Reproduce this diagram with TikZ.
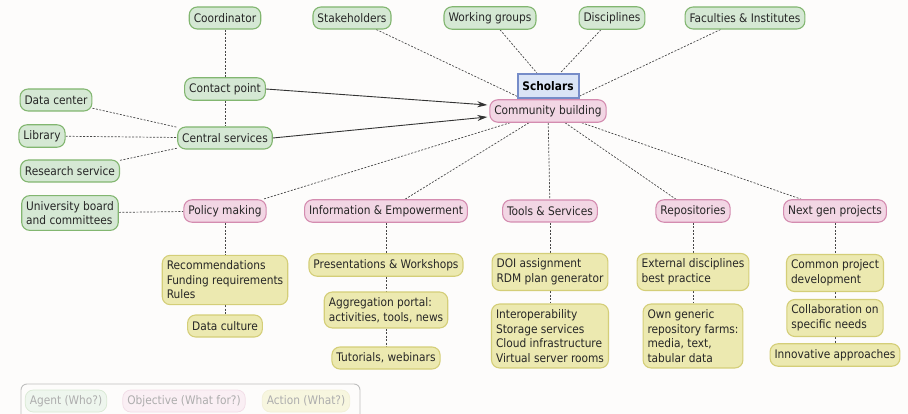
\documentclass[tikz,border=0pt]{standalone}
\usepackage{fontspec}
\setmainfont{DejaVu Sans Condensed}
\usetikzlibrary{arrows.meta,backgrounds}

\definecolor{agentfill}{RGB}{213,232,212}
\definecolor{agentline}{RGB}{130,182,112}
\definecolor{objfill}{RGB}{242,214,228}
\definecolor{objline}{RGB}{212,140,176}
\definecolor{actfill}{RGB}{236,233,176}
\definecolor{actline}{RGB}{212,206,120}
\definecolor{scholfill}{RGB}{218,228,246}
\definecolor{scholline}{RGB}{118,140,200}
\definecolor{linkgray}{RGB}{70,70,70}
\definecolor{paper}{RGB}{253,252,251}

\begin{document}
\begin{tikzpicture}[x=1pt,y=-1pt,font=\fontsize{11.8}{14.6}\selectfont,
    box/.style={draw, rounded corners=8pt, line width=1.1pt, inner xsep=4.5pt, inner ysep=5.5pt, minimum height=22pt, align=left, text=black!85},
    agent/.style={box, draw=agentline, fill=agentfill},
    objective/.style={box, draw=objline, fill=objfill},
    action/.style={box, draw=actline, fill=actfill},
    scholar/.style={draw=scholline, fill=scholfill, line width=2pt, minimum width=61pt, minimum height=24pt, font=\fontsize{11.8}{13}\selectfont\bfseries},
    link/.style={draw=linkgray, line width=0.7pt, dash pattern=on 2pt off 1.5pt},
    arrowlink/.style={draw=black!80, line width=0.9pt, -{Stealth[length=10pt,width=6pt]}},
    legendbox/.style={box, inner ysep=3pt, line width=0.7pt, text=black!32}]
    \useasboundingbox (0,0) rectangle (908,414);

    % agents (top row)
    \node[agent] (coord) at (225,18) {Coordinator};
    \node[agent] (stake) at (352,18) {Stakeholders};
    \node[agent] (wgroups) at (490,18) {Working groups};
    \node[agent] (discip) at (612,18) {Disciplines};
    \node[agent] (facul) at (745,18) {Faculties \& Institutes};

    % centre
    \node[scholar] (scholars) at (548,86) {Scholars};
    \node[objective] (community) at (548,111) {Community building};

    % agents (left)
    \node[agent] (contact) at (225,89) {Contact point};
    \node[agent] (central) at (225,138) {Central services};
    \node[agent] (datacenter) at (56,100) {Data center};
    \node[agent] (library) at (42,136) {Library};
    \node[agent] (research) at (70,171) {Research service};
    \node[agent] (uniboard) at (70,213) {University board\\and committees};

    % objectives
    \node[objective] (policy) at (225,211) {Policy making};
    \node[objective] (info) at (386,211) {Information \& Empowerment};
    \node[objective] (tools) at (550,211) {Tools \& Services};
    \node[objective] (repos) at (693,211) {Repositories};
    \node[objective] (nextgen) at (835,211) {Next gen projects};

    % actions
    \node[action] (recomm) at (225,280) {Recommendations\\Funding requirements\\Rules};
    \node[action] (dataculture) at (225,326) {Data culture};
    \node[action] (presws) at (386,265) {Presentations \& Workshops};
    \node[action] (aggreg) at (386,310) {Aggregation portal:\\activities, tools, news};
    \node[action] (tutor) at (386,358) {Tutorials, webinars};
    \node[action] (doi) at (550,272) {DOI assignment\\RDM plan generator};
    \node[action] (interop) at (550,336) {Interoperability\\Storage services\\Cloud infrastructure\\Virtual server rooms};
    \node[action] (extdisc) at (693,272) {External disciplines\\best practice};
    \node[action] (owngen) at (693,336) {Own generic\\repository farms:\\media, text,\\tabular data};
    \node[action] (common) at (835,273) {Common project\\development};
    \node[action] (collab) at (835,318) {Collaboration on\\specific needs};
    \node[action] (innov) at (835,355) {Innovative approaches};

    % legend
    \draw[black!25, line width=0.9pt, rounded corners=6pt] (21,384) rectangle (360,422);
    \node[legendbox, draw=agentline!30, fill=agentfill!40] (lagent) at (66,401) {Agent (Who?)};
    \node[legendbox, draw=objline!30, fill=objfill!40] (lobj) at (184,401) {Objective (What for?)};
    \node[legendbox, draw=actline!30, fill=actfill!40] (lact) at (306,401) {Action (What?)};

    \begin{pgfonlayer}{background}
        \fill[paper] (0,0) rectangle (908,414);
        \draw[link] (coord) -- (contact);
        \draw[link] (contact) -- (central);
        \draw[link] (datacenter) -- (central);
        \draw[link] (library) -- (central);
        \draw[link] (research) -- (central);
        \draw[link] (uniboard) -- (policy);
        \draw[link] (stake) -- (community);
        \draw[link] (facul) -- (community);
        \draw[link] (wgroups) -- (scholars);
        \draw[link] (discip) -- (scholars);
        \draw[link] (community) -- (policy);
        \draw[link] (community) -- (info);
        \draw[link] (community) -- (tools);
        \draw[link] (community) -- (repos);
        \draw[link] (community) -- (nextgen);
        \draw[link] (policy) -- (recomm);
        \draw[link] (recomm) -- (dataculture);
        \draw[link] (info) -- (presws);
        \draw[link] (presws) -- (aggreg);
        \draw[link] (aggreg) -- (tutor);
        \draw[link] (tools) -- (doi);
        \draw[link] (doi) -- (interop);
        \draw[link] (repos) -- (extdisc);
        \draw[link] (extdisc) -- (owngen);
        \draw[link] (nextgen) -- (common);
        \draw[link] (common) -- (collab);
        \draw[link] (collab) -- (innov);
    \end{pgfonlayer}

    \draw[arrowlink] (contact.east) -- ([yshift=6pt,xshift=-2pt]community.west);
    \draw[arrowlink] (central.east) -- ([yshift=-6pt,xshift=-2pt]community.west);
\end{tikzpicture}
\end{document}
